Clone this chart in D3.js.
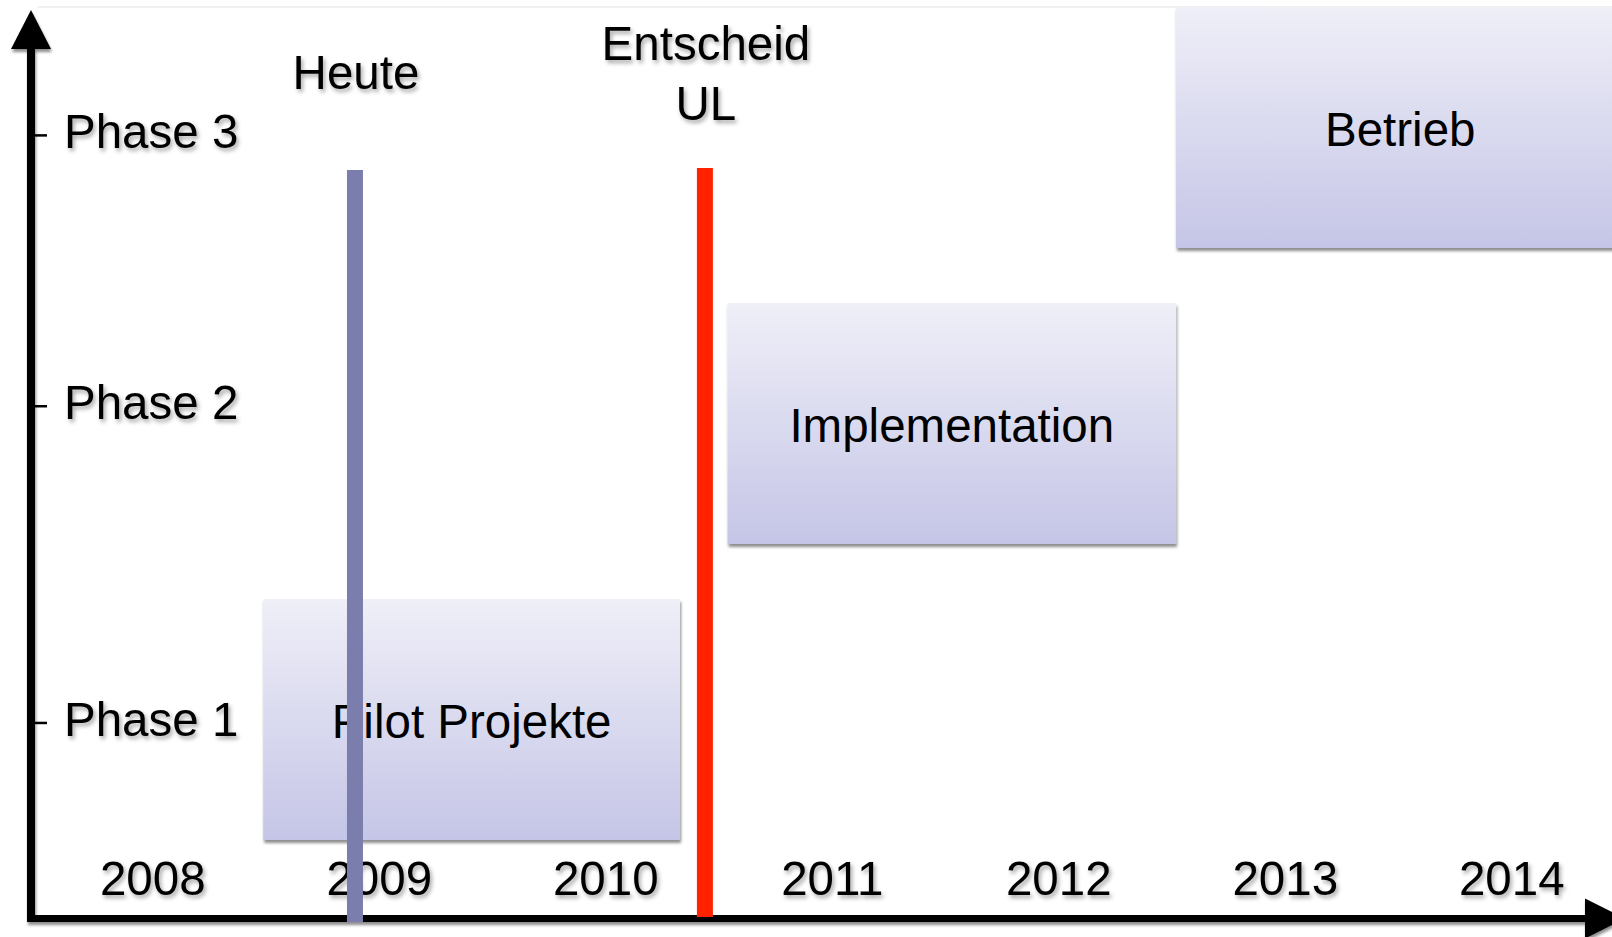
<!DOCTYPE html>
<html>
<head>
<meta charset="utf-8">
<script src="https://cdn.jsdelivr.net/npm/d3@7"></script>
<style>
  html, body { margin: 0; padding: 0; background: #ffffff; }
  svg { display: block; }
  text { font-family: "Liberation Sans", Arial, Helvetica, sans-serif; fill: #000; }
</style>
</head>
<body>
<svg id="chart" width="1612" height="937"></svg>
<script>
// ---- data ----
const years = [2008, 2009, 2010, 2011, 2012, 2013, 2014];
const phases = ["Phase 1", "Phase 2", "Phase 3"];
const phaseLabelLevels = [0.99, 2.06, 2.975];
const boxLabels = ["Pilot Projekte", "Implementation", "Betrieb"];
const boxLevels = [1, 2, 3];
const boxStart = [2008.99, 2011.04, 2013.02];
const boxEnd = [2010.83, 2013.02, 2015.0];
const markerLabels = [["Heute"], ["Entscheid", "UL"]];
const markerYears = [2009.395, 2010.94];
const markerColors = ["#7b7ead", "#ff2200"];

// ---- layout ----
const W = 1612, H = 937;
const svg = d3.select("#chart");
const x = d3.scaleLinear().domain([2008, 2015]).range([39, 1624.5]);
const y = d3.scaleLinear().domain([0, 3.5]).range([1015.5, 1015.5 - 3.5 * 296]);
const boxHalf = 0.407;
const axisX = 31, axisY = 918.5;
const fontSize = 47.5;

const defs = svg.append("defs");
const grad = defs.append("linearGradient").attr("id", "boxGrad")
  .attr("x1", 0).attr("y1", 0).attr("x2", 0).attr("y2", 1);
grad.append("stop").attr("offset", "0%").attr("stop-color", "#efeff8");
grad.append("stop").attr("offset", "100%").attr("stop-color", "#c5c5e7");

const tf = defs.append("filter").attr("id", "textShadow")
  .attr("x", "-10%").attr("y", "-20%").attr("width", "130%").attr("height", "160%");
tf.append("feDropShadow").attr("dx", 2).attr("dy", 3).attr("stdDeviation", 2)
  .attr("flood-color", "#000").attr("flood-opacity", 0.35);

const bf = defs.append("filter").attr("id", "boxShadow")
  .attr("x", "-5%").attr("y", "-5%").attr("width", "110%").attr("height", "115%");
bf.append("feDropShadow").attr("dx", 1).attr("dy", 3).attr("stdDeviation", 1.8)
  .attr("flood-color", "#000").attr("flood-opacity", 0.45);

// faint frame line at top
svg.append("line").attr("x1", 38).attr("x2", W).attr("y1", 7).attr("y2", 7)
  .attr("stroke", "#f0f0f0").attr("stroke-width", 2);

// ---- boxes ----
const boxes = boxLabels.map((label, i) => ({
  label, level: boxLevels[i], start: boxStart[i], end: boxEnd[i]
}));
const bg = svg.append("g");
bg.selectAll("rect").data(boxes).join("rect")
  .attr("x", d => x(d.start))
  .attr("y", d => y(d.level + boxHalf))
  .attr("width", d => x(d.end) - x(d.start))
  .attr("height", d => y(d.level - boxHalf) - y(d.level + boxHalf))
  .attr("fill", "url(#boxGrad)")
  .attr("filter", "url(#boxShadow)");
bg.selectAll("text").data(boxes).join("text")
  .attr("x", d => (x(d.start) + x(d.end)) / 2)
  .attr("y", d => y(d.level) + 18.5)
  .attr("text-anchor", "middle")
  .attr("font-size", fontSize)
  .text(d => d.label);

// ---- x axis (years) ----
const xAxis = d3.axisBottom(x)
  .tickValues(years.map(v => v + 0.5))
  .tickFormat(v => String(Math.floor(v)))
  .tickSize(0);
const gx = svg.append("g").attr("transform", `translate(0,${895})`).call(xAxis);
gx.select(".domain").remove();
gx.selectAll("text")
  .attr("y", 0).attr("dy", 0)
  .attr("font-size", fontSize)
  .attr("font-family", "Liberation Sans, Arial, sans-serif")
  .attr("fill", "#000")
  .attr("filter", "url(#textShadow)");

// ---- y axis (phases) ----
const yAxis = d3.axisRight(y)
  .tickValues(phaseLabelLevels)
  .tickFormat((v, i) => phases[i])
  .tickSize(12)
  .tickPadding(17);
const gy = svg.append("g").attr("transform", `translate(${axisX + 4},0)`).call(yAxis);
gy.select(".domain").remove();
gy.selectAll(".tick line").attr("stroke", "#000").attr("stroke-width", 2.5);
gy.selectAll("text")
  .attr("dy", "0.27em")
  .attr("font-size", fontSize)
  .attr("font-family", "Liberation Sans, Arial, sans-serif")
  .attr("fill", "#000")
  .attr("filter", "url(#textShadow)");

// ---- axis lines with arrows ----
const axG = svg.append("g").attr("filter", "url(#boxShadow)");
axG.append("line").attr("x1", axisX).attr("x2", axisX).attr("y1", 45).attr("y2", axisY + 3.5)
  .attr("stroke", "#000").attr("stroke-width", 8);
axG.append("path")
  .attr("d", `M${axisX - 20},49 L${axisX},10 L${axisX + 20},49 Z`)
  .attr("fill", "#000");
axG.append("line").attr("x1", axisX - 4).attr("x2", 1590).attr("y1", axisY).attr("y2", axisY)
  .attr("stroke", "#000").attr("stroke-width", 7);
axG.append("path")
  .attr("d", `M1585,${axisY - 20} L1625,${axisY} L1585,${axisY + 20} Z`)
  .attr("fill", "#000");

// ---- marker lines ----
const markers = markerLabels.map((lines, i) => ({
  lines, year: markerYears[i], color: markerColors[i]
}));
const mg = svg.append("g");
mg.selectAll("rect").data(markers).join("rect")
  .attr("x", d => x(d.year) - 8)
  .attr("width", 16)
  .attr("y", (d, i) => i === 0 ? 170 : 168)
  .attr("height", (d, i) => i === 0 ? 922 - 170 : 917 - 168)
  .attr("fill", d => d.color);

const ml = svg.append("g").attr("filter", "url(#textShadow)");
ml.selectAll("text").data(markers).join("text")
  .attr("x", d => x(d.year) + 1)
  .attr("y", d => d.lines.length === 1 ? 89 : 60)
  .attr("text-anchor", "middle")
  .attr("font-size", fontSize)
  .each(function(d) {
    const t = d3.select(this);
    d.lines.forEach((s, k) => {
      t.append("tspan").attr("x", x(d.year) + 1).attr("dy", k === 0 ? 0 : 60).text(s);
    });
  });
</script>
</body>
</html>
